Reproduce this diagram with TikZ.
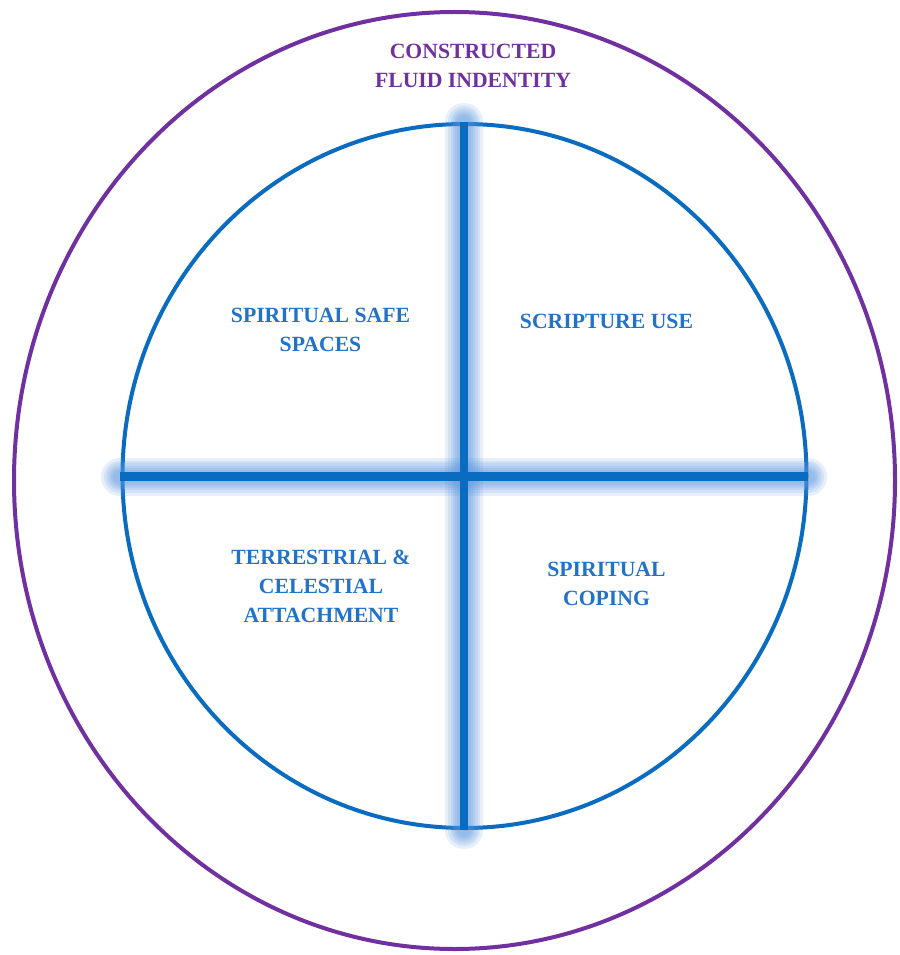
\documentclass[tikz,border=0pt]{standalone}
\usepackage{fontspec}
\setmainfont{Liberation Serif}
\definecolor{lineblue}{HTML}{0A6CC0}
\definecolor{textblue}{HTML}{2272C8}
\definecolor{glowblue}{HTML}{5A97E0}
\definecolor{outerpurple}{HTML}{7030A0}
\begin{document}
\begin{tikzpicture}[x=1pt,y=-1pt,
  lbl/.style={font=\fontsize{21.7}{29}\selectfont\bfseries, align=center, text=textblue, inner sep=0pt},
  glowline/.style={line width=#1, draw=glowblue, draw opacity=0.15, line cap=round},
  mainline/.style={line width=8.5pt, draw=lineblue, line cap=butt}]
\useasboundingbox (0,0) rectangle (899,955);
\fill[white] (0,0) rectangle (899,955);
% outer ellipse
\draw[outerpurple, line width=4pt] (454.5,480.5) ellipse [x radius=440.5, y radius=468.5];
% inner circle
\draw[lineblue, line width=4pt] (464.5,476) ellipse [x radius=342, y radius=352];
% coordinates of cross ends
\coordinate (vt) at (464,122);
\coordinate (vb) at (464,830);
\coordinate (hl) at (120,476.5);
\coordinate (hr) at (808,476.5);
% glow
\foreach \w in {38,32,27,22,18,14}{
  \draw[glowline=\w pt] (vt) -- (vb);
  \draw[glowline=\w pt] (hl) -- (hr);
}
\draw[mainline] (vt) -- (vb);
\draw[mainline] (hl) -- (hr);
% labels
\node[lbl, text=outerpurple] (cfi) at (473,66) {CONSTRUCTED\\FLUID INDENTITY};
\node[lbl] (sss) at (320.5,329.5) {SPIRITUAL SAFE\\SPACES};
\node[lbl] (su) at (606.5,321) {SCRIPTURE USE};
\node[lbl] (tca) at (321,586.5) {TERRESTRIAL \&\\CELESTIAL\\ATTACHMENT};
\node[lbl] (sc) at (606.5,583.5) {SPIRITUAL\\COPING};
\end{tikzpicture}
\end{document}
